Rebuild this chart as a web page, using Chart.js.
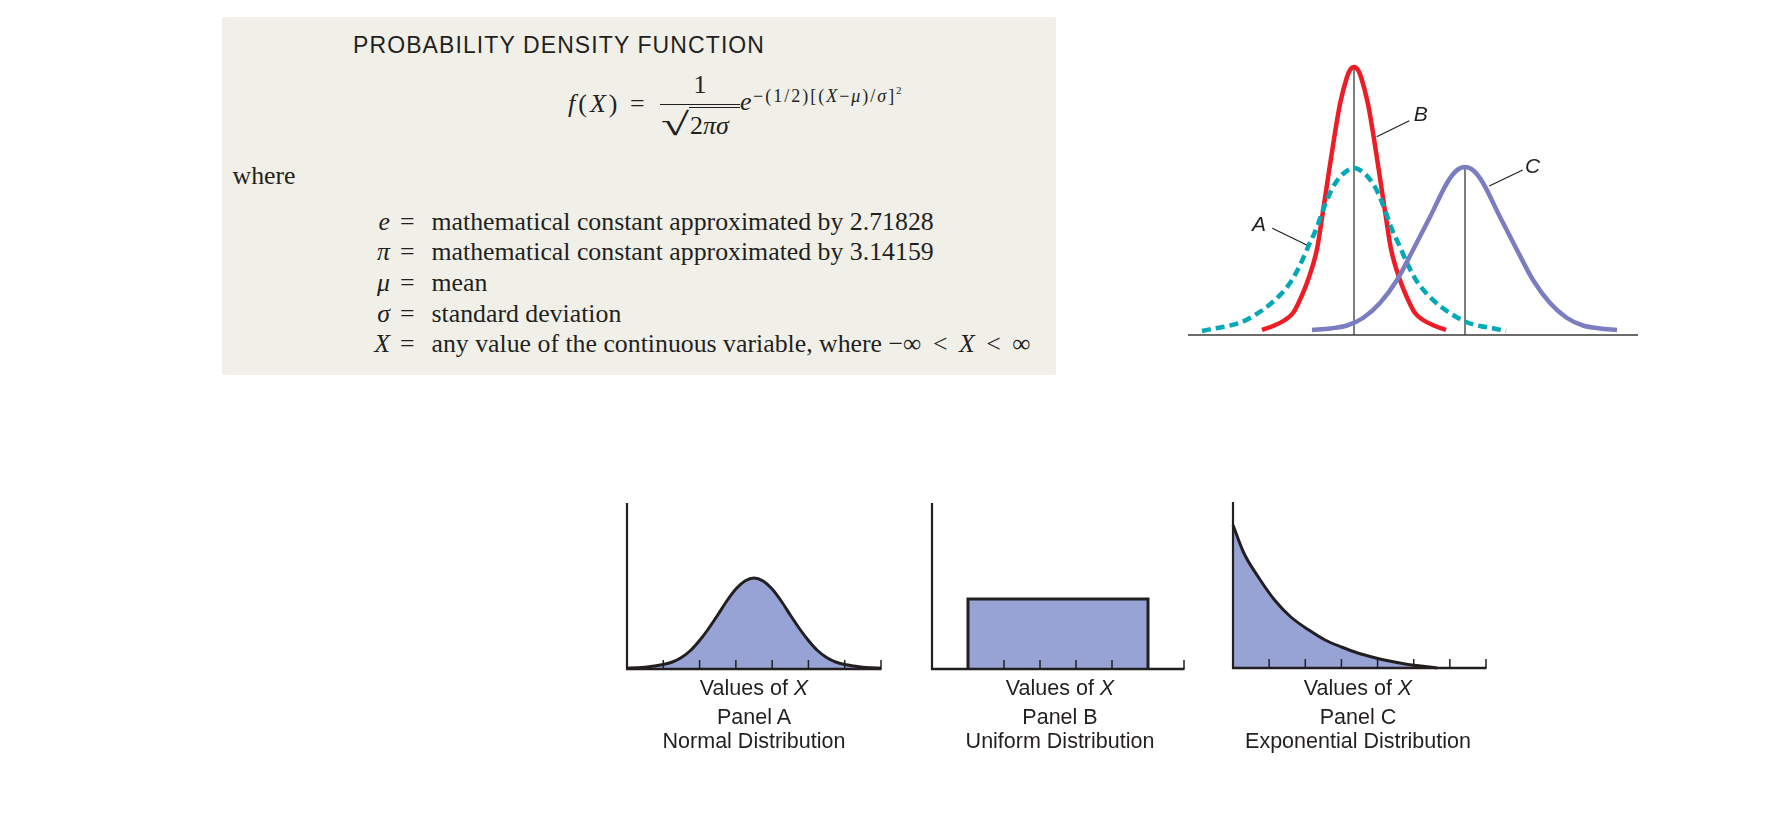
<!DOCTYPE html>
<html><head><meta charset="utf-8">
<script src="https://cdn.jsdelivr.net/npm/chart.js@4.4.1/dist/chart.umd.min.js"></script>
<style>
html,body{margin:0;padding:0;background:#fff;}
body{width:1790px;height:817px;position:relative;overflow:hidden;}
.t{position:absolute;white-space:nowrap;color:#231F20;}
.rule{position:absolute;background:#231F20;}
canvas{position:absolute;}
#box{position:absolute;left:222px;top:17px;width:834px;height:358px;background:#F1F0E8;}
</style></head><body>
<div id="box"></div>
<canvas id="top" width="470" height="295" style="left:1178px;top:50px;width:470px;height:295px"></canvas>
<canvas id="pA" width="274" height="190" style="left:617px;top:489px;width:274px;height:190px"></canvas>
<canvas id="pB" width="272" height="190" style="left:922px;top:489px;width:272px;height:190px"></canvas>
<canvas id="pC" width="273" height="190" style="left:1223px;top:488px;width:273px;height:190px"></canvas>
<script>
// ---------- DATA ----------
// Top-right figure: three normal curves A (dashed), B, C
const curveA_x = [1.4, 2.7, 4.0, 5.4, 6.7, 8.0, 9.4, 10.4, 11.2, 12.0, 12.9, 13.5, 14.5, 15.5, 16.6, 17.7, 18.7, 19.7, 20.3, 21.2, 22.0, 22.8, 23.8, 25.2, 26.5, 27.8, 29.2, 30.5, 31.8];
const curveA_y = [4, 6.7, 9, 13, 20, 29, 42, 55, 70, 88, 108, 125, 148, 161, 167, 161, 148, 125, 108, 88, 70, 55, 42, 29, 20, 13, 9, 6.7, 4];
const curveB_x = [7.4, 8.5, 9.7, 10.5, 11.0, 12.0, 12.9, 13.4, 14.0, 14.6, 15.2, 15.9, 16.2, 16.6, 17.0, 17.3, 18.0, 18.6, 19.2, 19.8, 20.3, 21.2, 22.2, 22.7, 23.5, 24.7, 25.8];
const curveB_y = [5, 9, 15, 22, 31, 55, 86, 117, 157, 196, 231, 258, 265, 268, 265, 258, 231, 196, 157, 117, 86, 55, 31, 22, 15, 9, 5];
const curveC_x = [12.4, 14.2, 15.9, 17.5, 19.2, 20.9, 22.5, 24.2, 25.9, 26.8, 27.7, 28.6, 29.5, 31.2, 32.9, 34.5, 36.2, 37.9, 39.5, 41.2, 42.9];
const curveC_y = [5, 6.5, 9.5, 17, 32, 55, 85, 118, 152, 164, 168, 164, 152, 118, 85, 55, 32, 17, 9.5, 6.5, 5];

// Bottom panels
const panelTicks = [1, 2, 3, 4, 5, 6, 7];
const normalX = [0, 0.25, 0.5, 0.75, 1, 1.25, 1.5, 1.75, 2, 2.25, 2.5, 2.75, 3, 3.25, 3.5, 3.75, 4, 4.25, 4.5, 4.75, 5, 5.25, 5.5, 5.75, 6, 6.25, 6.5, 6.75, 7];
const normalY = [0.8, 1.2, 1.8, 3, 4.5, 7, 11.5, 18.5, 28.5, 40.5, 54, 68, 80, 88, 91, 88, 80, 68, 54, 40.5, 28.5, 18.5, 11.5, 7, 4.5, 3, 1.8, 1.2, 0.8];
const uniformX = [1, 1, 6, 6];
const uniformY = [0, 70, 70, 0];
const expX = [0, 0.3, 0.7, 1.15, 1.6, 2.1, 2.55, 3.0, 3.45, 3.9, 4.4, 4.85, 5.2, 5.65];
const expY = [143, 115, 91, 68, 51, 38, 28, 21, 15, 10.5, 6.5, 3.5, 2, 0];

const panelTitles = ['Panel A', 'Panel B', 'Panel C'];
const panelNames = ['Normal Distribution', 'Uniform Distribution', 'Exponential Distribution'];

// ---------- STYLE / LAYOUT ----------
const INK = '#231F20';
const FILL = '#97A3D4';
const RED = '#EE1C25';
const TEAL = '#00A9B5';
const PURPLE = '#7A7DC0';
const SERIF = '"Liberation Serif","Times New Roman",Times,serif';
const SANS = '"Liberation Sans",Arial,Helvetica,sans-serif';

const pts = (xs, ys) => xs.map((v, i) => ({x: v, y: ys[i]}));

// ---------- TEXT (HTML) ----------
function T(html, x, base, size, fam, align, extra) {
  const d = document.createElement('div');
  d.className = 't';
  d.innerHTML = html;
  const k = fam === SERIF ? 0.8375 : 0.8465;
  d.style.fontFamily = fam;
  d.style.fontSize = size + 'px';
  d.style.lineHeight = size + 'px';
  d.style.top = (base - k * size) + 'px';
  if (align === 'right') d.style.right = (1790 - x) + 'px';
  else if (align === 'center') { d.style.left = (x - 300) + 'px'; d.style.width = '600px'; d.style.textAlign = 'center'; }
  else d.style.left = x + 'px';
  if (extra) d.style.cssText += ';' + extra;
  document.body.appendChild(d);
  return d;
}
function R(x, y, w, h) {
  const d = document.createElement('div');
  d.className = 'rule';
  d.style.cssText += `left:${x}px;top:${y}px;width:${w}px;height:${h}px`;
  document.body.appendChild(d);
}

T('PROBABILITY DENSITY FUNCTION', 353, 53.3, 23, SANS, 'left', 'letter-spacing:1.1px');
T('<i>f</i>(<i>X</i>)', 568, 113, 26, SERIF, 'left', 'letter-spacing:3px');
T('=', 630, 113, 26, SERIF, 'left');
T('1', 700, 93.3, 26, SERIF, 'center');
R(660, 103.7, 80, 1.3);
T('√', 661, 134.5, 32, SERIF, 'left', 'transform:scaleX(1.6);transform-origin:0 0');
R(689, 107.2, 51, 1.3);
T('2<i>π</i><i>σ</i>', 690, 135, 26, SERIF, 'left');
T('<i>e</i>', 740, 111, 26, SERIF, 'left');
T('−(1/2)[(<i>X</i>−<i>μ</i>)/<i>σ</i>]', 753, 101.7, 18, SERIF, 'left', 'letter-spacing:2px');
T('2', 896, 94, 11, SERIF, 'left');

T('where', 232.5, 185, 25.8, SERIF, 'left');
const syms = ['<i>e</i>', '<i>π</i>', '<i>μ</i>', '<i>σ</i>', '<i>X</i>'];
const defs = ['mathematical constant approximated by 2.71828',
  'mathematical constant approximated by 3.14159',
  'mean', 'standard deviation',
  'any value of the continuous variable, where −∞ <span style="margin:0 5px">&lt;</span> <i>X</i> <span style="margin:0 5px">&lt;</span> ∞'];
const lineBase = [231, 261, 291.8, 322.3, 352.7];
syms.forEach((s, i) => {
  T(s, 390, lineBase[i], 25.8, SERIF, 'right');
  T('=', 400, lineBase[i], 25.8, SERIF, 'left');
  T(defs[i], 431.5, lineBase[i], 25.8, SERIF, 'left');
});

const panelCenters = [754, 1060, 1358];
panelCenters.forEach((c, i) => {
  T('Values of <i>X</i>', c, 695.7, 21.5, SANS, 'center');
  T(panelTitles[i], c, 725, 21.5, SANS, 'center');
  T(panelNames[i], c, 749.5, 21.5, SANS, 'center');
});

// ---------- CHARTS ----------
const topLabels = [
  {text: 'A', at: [7.1, 104.3], leader: [[8.43, 106.7], [11.87, 90]]},
  {text: 'B', at: [23.27, 214], leader: [[22.13, 214.3], [18.87, 198.3]]},
  {text: 'C', at: [34.47, 162.5], leader: [[33.47, 165], [30.13, 149]]},
];

const topDecor = {
  id: 'topDecor',
  beforeDatasetsDraw(chart) {
    const {ctx, scales: {x, y}} = chart;
    ctx.save();
    ctx.strokeStyle = '#3a3a3a';
    ctx.lineWidth = 1.3;
    ctx.beginPath();
    ctx.moveTo(x.getPixelForValue(x.min), y.getPixelForValue(0));
    ctx.lineTo(x.getPixelForValue(x.max), y.getPixelForValue(0));
    ctx.stroke();
    // vertical lines at the means (peaks of B and C)
    [[curveB_x, curveB_y], [curveC_x, curveC_y]].forEach(([xs, ys]) => {
      let k = 0; ys.forEach((v, i) => { if (v > ys[k]) k = i; });
      const px = x.getPixelForValue(xs[k]);
      ctx.beginPath();
      ctx.moveTo(px, y.getPixelForValue(0));
      ctx.lineTo(px, y.getPixelForValue(ys[k]));
      ctx.stroke();
    });
    ctx.restore();
  },
  afterDatasetsDraw(chart) {
    const {ctx, scales: {x, y}} = chart;
    ctx.save();
    ctx.strokeStyle = INK;
    ctx.fillStyle = INK;
    ctx.lineWidth = 1.2;
    ctx.font = 'italic 21px ' + SANS;
    ctx.textAlign = 'center';
    ctx.textBaseline = 'alphabetic';
    topLabels.forEach(l => {
      ctx.beginPath();
      ctx.moveTo(x.getPixelForValue(l.leader[0][0]), y.getPixelForValue(l.leader[0][1]));
      ctx.lineTo(x.getPixelForValue(l.leader[1][0]), y.getPixelForValue(l.leader[1][1]));
      ctx.stroke();
      ctx.fillText(l.text, x.getPixelForValue(l.at[0]), y.getPixelForValue(l.at[1]));
    });
    ctx.restore();
  }
};

const baseOpts = (xmax, ymax) => ({
  responsive: false, animation: false, events: [],
  layout: {padding: 10},
  plugins: {legend: {display: false}, tooltip: {enabled: false}},
  scales: {
    x: {type: 'linear', min: 0, max: xmax, display: false},
    y: {type: 'linear', min: 0, max: ymax, display: false}
  }
});

const lineDs = (data, color, order, dash) => ({
  data, borderColor: color, borderWidth: 4.5, pointRadius: 0, fill: false,
  tension: 0.4, cubicInterpolationMode: 'monotone', clip: false, order,
  borderDash: dash || [], borderCapStyle: 'butt'
});

new Chart(document.getElementById('top'), {
  type: 'line',
  data: {datasets: [
    lineDs(pts(curveB_x, curveB_y), RED, 3),
    lineDs(pts(curveA_x, curveA_y), TEAL, 2, [9, 5]),
    lineDs(pts(curveC_x, curveC_y), PURPLE, 1)
  ]},
  options: baseOpts(45, 275),
  plugins: [topDecor]
});

const panelAxes = {
  id: 'panelAxes',
  afterDatasetsDraw(chart, args, o) {
    const {ctx, scales: {x, y}} = chart;
    const x0 = x.getPixelForValue(x.min), x1 = x.getPixelForValue(x.max);
    const y0 = y.getPixelForValue(0), yTop = y.getPixelForValue(o.axisTop);
    ctx.save();
    ctx.strokeStyle = INK;
    ctx.lineWidth = 2.2;
    ctx.beginPath(); ctx.moveTo(x0, y0 + 1); ctx.lineTo(x0, yTop); ctx.stroke();
    ctx.lineWidth = 2.6;
    ctx.beginPath(); ctx.moveTo(x0 - 1, y0); ctx.lineTo(x1 + 0.5, y0); ctx.stroke();
    ctx.lineWidth = 1.5;
    o.ticks.forEach(t => {
      const px = x.getPixelForValue(t);
      ctx.beginPath(); ctx.moveTo(px, y0); ctx.lineTo(px, y0 - 9); ctx.stroke();
    });
    ctx.restore();
  }
};

function panel(id, xs, ys, smooth) {
  const opts = baseOpts(7, 170);
  opts.plugins.panelAxes = {axisTop: 166, ticks: panelTicks};
  new Chart(document.getElementById(id), {
    type: 'line',
    data: {datasets: [{
      data: pts(xs, ys), borderColor: INK, borderWidth: 3, pointRadius: 0,
      fill: 'origin', backgroundColor: FILL, clip: false,
      tension: smooth ? 0.4 : 0, cubicInterpolationMode: smooth ? 'monotone' : 'default',
      borderJoinStyle: 'miter'
    }]},
    options: opts,
    plugins: [panelAxes]
  });
}
panel('pA', normalX, normalY, true);
panel('pB', uniformX, uniformY, false);
panel('pC', expX, expY, true);
</script>
</body></html>
